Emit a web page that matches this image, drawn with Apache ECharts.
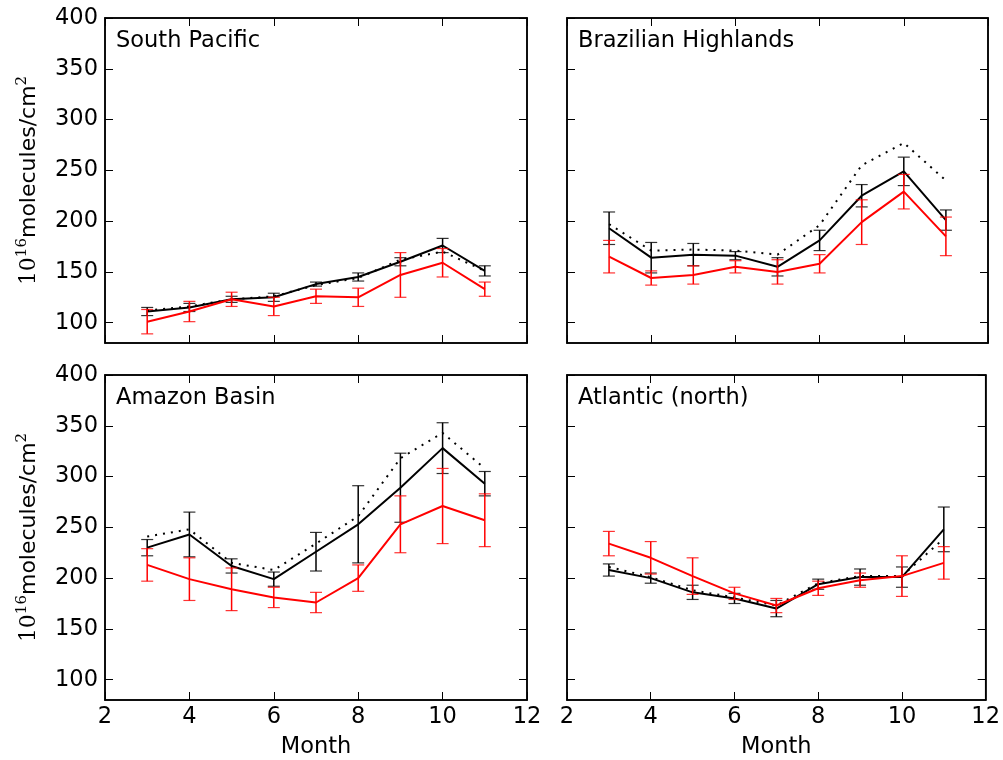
<!DOCTYPE html>
<html><head><meta charset="utf-8">
<script src="https://cdn.jsdelivr.net/npm/echarts@6/dist/echarts.min.js"></script>
<style>html,body{margin:0;padding:0;background:#fff}#c{width:1003px;height:760px}</style>
</head><body><div id="c"></div>
<script>
const months = [3,4,5,6,7,8,9,10,11];
const xTicks = [2,4,6,8,10,12];
const yTicks = [100,150,200,250,300,350,400];
const panelNames = ['South Pacific','Brazilian Highlands','Amazon Basin','Atlantic (north)'];

const spBlack = [111,115,123,125,138,145,160,176,151];
const spBlackErr = [4,4,3,4,2,4,4,7,5];
const spDotted = [112,116,123,126,137,144,162,170,151];
const spRed = [101,111,123,116,126,125,147,159,133];
const spRedErr = [12,10,7,9,7,9,22,14,7];

const bhBlack = [193,164,167,166,155,181,225,249,201];
const bhBlackErr = [16,15,11,4,9,10,11,14,10];
const bhDotted = [197,171,172,171,167,196,255,277,240];
const bhRed = [165,144,147,155,150,158,199,229,185];
const bhRedErr = [16,7,9,6,12,9,22,17,19];

const abBlack = [230,243,212,199,226,253,289,328,293];
const abBlackErr = [8,22,7,7,19,38,34,25,12];
const abDotted = [241,248,215,208,234,261,318,343,308];
const abRed = [213,199,189,181,176,200,253,271,257];
const abRedErr = [16,21,21,10,10,13,28,37,26];

const anBlack = [208,200,186,180,170,194,201,201,248];
const anBlackErr = [6,5,7,5,8,5,8,10,22];
const anDotted = [211,201,188,181,173,195,202,202,239];
const anRed = [234,220,202,185,173,190,198,202,215];
const anRedErr = [12,16,18,6,7,7,7,20,16];

const panels = [
  {black: spBlack, bErr: spBlackErr, dotted: spDotted, red: spRed, rErr: spRedErr},
  {black: bhBlack, bErr: bhBlackErr, dotted: bhDotted, red: bhRed, rErr: bhRedErr},
  {black: abBlack, bErr: abBlackErr, dotted: abDotted, red: abRed, rErr: abRedErr},
  {black: anBlack, bErr: anBlackErr, dotted: anDotted, red: anRed, rErr: anRedErr}
];

const FONT = 'DejaVu Sans';
const FS = 22.5;
const gridPos = [
  {left: 105, top: 18, width: 422, height: 325},
  {left: 567, top: 18, width: 421, height: 325},
  {left: 105, top: 375, width: 422, height: 325},
  {left: 567, top: 375, width: 421, height: 325}
];

const grids = [], xAxes = [], yAxes = [], series = [], titles = [];

function errSeries(xi, yi, vals, errs, color, z) {
  return {
    type: 'custom', xAxisIndex: xi, yAxisIndex: yi, z: z, silent: true,
    data: months.map((m, i) => [m, vals[i] - errs[i], vals[i] + errs[i]]),
    renderItem: function (params, api) {
      const lo = api.coord([api.value(0), api.value(1)]);
      const hi = api.coord([api.value(0), api.value(2)]);
      const hw = 6;
      return {
        type: 'group',
        children: [
          {type: 'line', shape: {x1: lo[0], y1: lo[1], x2: hi[0], y2: hi[1]}, style: {stroke: color, lineWidth: 1.5}},
          {type: 'line', shape: {x1: lo[0]-hw, y1: lo[1], x2: lo[0]+hw, y2: lo[1]}, style: {stroke: color, lineWidth: 1.2, opacity: 0.8}},
          {type: 'line', shape: {x1: hi[0]-hw, y1: hi[1], x2: hi[0]+hw, y2: hi[1]}, style: {stroke: color, lineWidth: 1.2, opacity: 0.8}}
        ]
      };
    }
  };
}

panels.forEach((p, k) => {
  grids.push(Object.assign({show: true, borderColor: '#000', borderWidth: 1.5, backgroundColor: 'transparent'}, gridPos[k]));
  const isBottom = k >= 2, isLeft = (k % 2) === 0;
  const xi = xAxes.length, yi = yAxes.length;
  xAxes.push({
    type: 'value', gridIndex: k, min: 2, max: 12, interval: 2, position: 'bottom',
    axisLine: {show: true, lineStyle: {color: '#000', width: 1.5}},
    axisTick: {show: true, inside: true, length: 8, lineStyle: {color: '#000', width: 1}},
    axisLabel: {show: isBottom, color: '#000', fontSize: FS, fontFamily: FONT, margin: 6},
    splitLine: {show: false},
    name: isBottom ? 'Month' : '', nameLocation: 'middle', nameGap: 36,
    nameTextStyle: {color: '#000', fontSize: FS, fontFamily: FONT}
  });
  xAxes.push({
    type: 'value', gridIndex: k, min: 2, max: 12, interval: 2, position: 'top',
    axisLine: {show: true, lineStyle: {color: '#000', width: 1.5}},
    axisTick: {show: true, inside: true, length: 8, lineStyle: {color: '#000', width: 1}},
    axisLabel: {show: false}, splitLine: {show: false}
  });
  yAxes.push({
    type: 'value', gridIndex: k, min: 80, max: 400, position: 'left',
    axisLine: {show: true, lineStyle: {color: '#000', width: 1.5}},
    axisTick: {show: true, inside: true, length: 8, customValues: yTicks, lineStyle: {color: '#000', width: 1}},
    axisLabel: {show: isLeft, customValues: yTicks, color: '#000', fontSize: FS, fontFamily: FONT, margin: 7},
    splitLine: {show: false},
    name: isLeft ? '{n|10}{s|16}{t|molecules/cm}{s|2}' : '',
    nameLocation: 'middle', nameRotate: 90, nameGap: 61,
    nameTextStyle: {
      color: '#000',
      rich: {
        n: {fontFamily: 'DejaVu Serif', fontSize: 22, color: '#000'},
        s: {fontFamily: 'DejaVu Serif', fontSize: 15, color: '#000', padding: [0, 0, 14, 0]},
        t: {fontFamily: FONT, fontSize: 22, color: '#000'}
      }
    }
  });
  yAxes.push({
    type: 'value', gridIndex: k, min: 80, max: 400, position: 'right',
    axisLine: {show: true, lineStyle: {color: '#000', width: 1.5}},
    axisTick: {show: true, inside: true, length: 8, customValues: yTicks, lineStyle: {color: '#000', width: 1}},
    axisLabel: {show: false}, splitLine: {show: false}
  });

  series.push({
    type: 'line', xAxisIndex: xi, yAxisIndex: yi, z: 2, silent: true,
    data: months.map((m, i) => [m, p.dotted[i]]), symbol: 'none',
    lineStyle: {color: '#000', width: 2, type: [2, 6], cap: 'butt'}
  });
  series.push(errSeries(xi, yi, p.black, p.bErr, '#000', 3));
  series.push({
    type: 'line', xAxisIndex: xi, yAxisIndex: yi, z: 3, silent: true,
    data: months.map((m, i) => [m, p.black[i]]), symbol: 'none',
    lineStyle: {color: '#000', width: 2}
  });
  series.push(errSeries(xi, yi, p.red, p.rErr, '#ff0000', 4));
  series.push({
    type: 'line', xAxisIndex: xi, yAxisIndex: yi, z: 4, silent: true,
    data: months.map((m, i) => [m, p.red[i]]), symbol: 'none',
    lineStyle: {color: '#ff0000', width: 2}
  });

  titles.push({
    text: panelNames[k], left: gridPos[k].left + 11, top: gridPos[k].top + 12,
    textStyle: {color: '#000', fontSize: FS, fontWeight: 'normal', fontFamily: FONT}, padding: 0
  });
});

const chart = echarts.init(document.getElementById('c'), null, {renderer: 'canvas'});
chart.setOption({
  animation: false,
  backgroundColor: '#fff',
  title: titles,
  grid: grids,
  xAxis: xAxes,
  yAxis: yAxes,
  series: series
});
</script>
</body></html>
